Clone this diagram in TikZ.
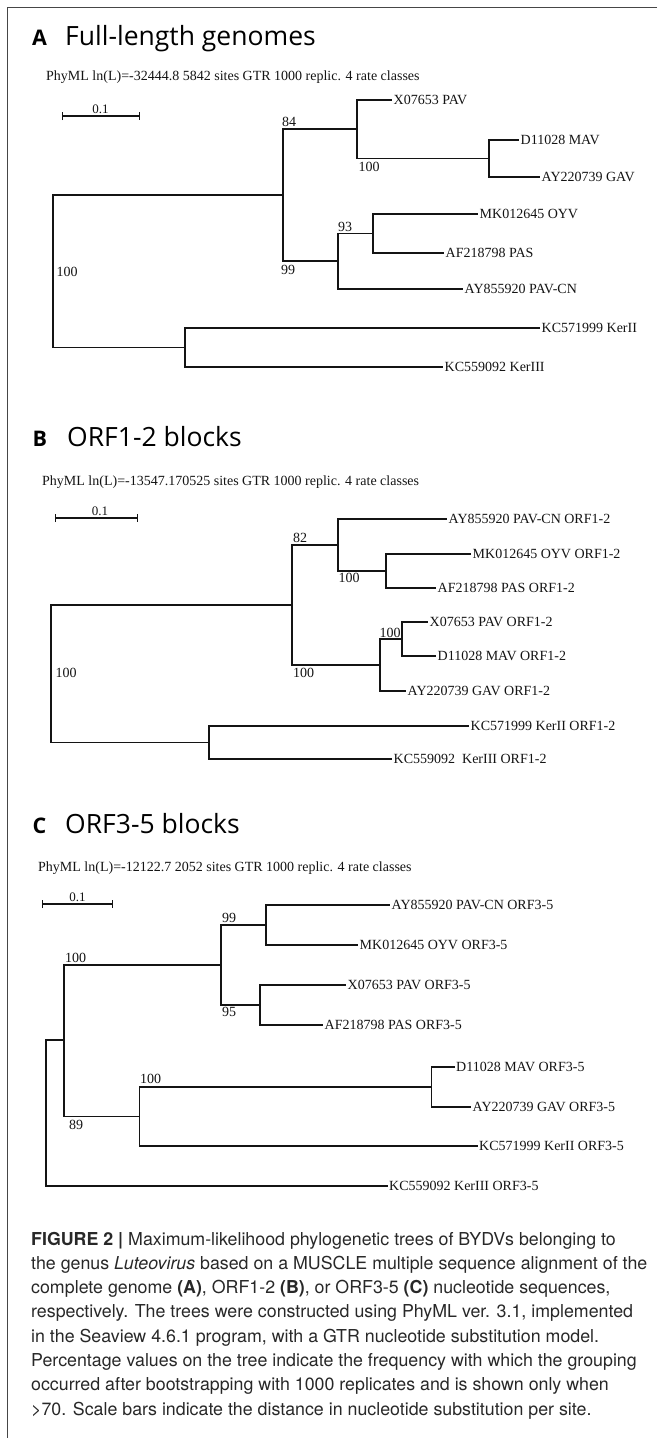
\documentclass[tikz,border=0pt]{standalone}
\usepackage{fontspec}
\setmainfont{Liberation Serif}
\newfontfamily\headfont{Open Sans}
\newfontfamily\capfont{TeX Gyre Heros}
\usetikzlibrary{arrows.meta}
\definecolor{ink}{RGB}{20,20,20}
\definecolor{rule}{RGB}{70,70,70}
\definecolor{captext}{RGB}{40,40,40}
\tikzset{
  branch/.style={draw=ink, line width=1.2pt},
  leaf/.style={anchor=west, inner xsep=1.5pt, inner ysep=0pt,
               font=\fontsize{14}{16}\selectfont, text=ink},
  boot/.style={inner sep=0pt, font=\fontsize{14}{16}\selectfont, text=ink},
  info/.style={anchor=west, inner sep=0pt, font=\fontsize{14}{16}\selectfont, text=ink},
  panel/.style={anchor=base west, inner sep=0pt, font=\headfont\bfseries\fontsize{21.5}{24}\selectfont},
  heading/.style={anchor=base west, inner sep=0pt, font=\headfont\fontsize{26.5}{30}\selectfont},
  scalebar/.style={draw=ink, line width=1.2pt, {Bar[width=8pt]}-{Bar[width=8pt]}},
  scaletext/.style={anchor=base, inner sep=0pt, font=\fontsize{13}{15}\selectfont, text=ink},
  capline/.style={anchor=base west, inner sep=0pt, font=\capfont\fontsize{17.8}{22}\selectfont, text=captext},
  frame/.style={draw=rule, line width=1.5pt},
}

\begin{document}
\begin{tikzpicture}[x=1pt,y=-1pt]
        \useasboundingbox (0,0) rectangle (657,1438);
        \draw[frame] (657,7.5) -- (7.5,7.5) -- (7.5,1438);

        % A: full-length genomes
        \node[panel] (pA) at (32,45) {A};
        \node[heading] (hA) at (65,45) {Full-length genomes};
        \node[info] (iA) at (46,77) {PhyML ln(L)=-32444.8 5842 sites GTR 1000 replic. 4 rate classes};
        \coordinate (sA0) at (62,116);
        \coordinate (sA1) at (140,116);
        \draw[scalebar] (sA0) -- (sA1);
        \node[scaletext] (tA) at (100.5,113) {0.1};
        \coordinate (rA) at (53,271);
        \coordinate (nA84) at (283,195);
        \coordinate (nApav) at (357,129);
        \coordinate (nAmg) at (489,158.5);
        \coordinate (nA99) at (338,261);
        \coordinate (nA93) at (373,233.5);
        \coordinate (nAker) at (185,347.5);
        \node[leaf] (aPAV) at (392,100) {X07653 PAV};
        \node[leaf] (aMAV) at (519,140) {D11028 MAV};
        \node[leaf] (aGAV) at (540,177) {AY220739 GAV};
        \node[leaf] (aOYV) at (478,214) {MK012645 OYV};
        \node[leaf] (aPAS) at (444,253) {AF218798 PAS};
        \node[leaf] (aPAVCN) at (463,289) {AY855920 PAV-CN};
        \node[leaf] (aKerII) at (540,328) {KC571999 KerII};
        \node[leaf] (aKerIII) at (443,367) {KC559092 KerIII};
        \draw[branch] (rA) |- (nA84);
        \draw[branch] (rA) |- (nAker);
        \draw[branch] (nA84) |- (nApav);
        \draw[branch] (nA84) |- (nA99);
        \draw[branch] (nApav) |- (aPAV.west);
        \draw[branch] (nApav) |- (nAmg);
        \draw[branch] (nAmg) |- (aMAV.west);
        \draw[branch] (nAmg) |- (aGAV.west);
        \draw[branch] (nA99) |- (nA93);
        \draw[branch] (nA99) |- (aPAVCN.west);
        \draw[branch] (nA93) |- (aOYV.west);
        \draw[branch] (nA93) |- (aPAS.west);
        \draw[branch] (nAker) |- (aKerII.west);
        \draw[branch] (nAker) |- (aKerIII.west);
        \node[boot] (bA84) at (289,122) {84};
        \node[boot] (bAmg) at (369,167) {100};
        \node[boot] (bA93) at (345,227) {93};
        \node[boot] (bA99) at (288,270) {99};
        \node[boot] (bArt) at (67,272) {100};

        % B: ORF1-2 blocks
        \node[panel] (pB) at (32.5,446) {B};
        \node[heading] (hB) at (67,446) {ORF1-2 blocks};
        \node[info] (iB) at (42,482) {PhyML ln(L)=-13547.170525 sites GTR 1000 replic. 4 rate classes};
        \coordinate (sB0) at (54.5,518);
        \coordinate (sB1) at (138,518);
        \draw[scalebar] (sB0) -- (sB1);
        \node[scaletext] (tB) at (100,515) {0.1};
        \coordinate (rB) at (51,673.5);
        \coordinate (nB82) at (292,605);
        \coordinate (nBcn) at (338,545);
        \coordinate (nBop) at (386,571);
        \coordinate (nBpg) at (380,665);
        \coordinate (nBpm) at (402,639);
        \coordinate (nBker) at (209,742.5);
        \node[leaf] (bPAVCN) at (447,519) {AY855920 PAV-CN ORF1-2};
        \node[leaf] (bOYV) at (471,554) {MK012645 OYV ORF1-2};
        \node[leaf] (bPAS) at (436,588) {AF218798 PAS ORF1-2};
        \node[leaf] (bPAV) at (428,622) {X07653 PAV ORF1-2};
        \node[leaf] (bMAV) at (436,656) {D11028 MAV ORF1-2};
        \node[leaf] (bGAV) at (406,691) {AY220739 GAV ORF1-2};
        \node[leaf] (bKerII) at (469,726) {KC571999 KerII ORF1-2};
        \node[leaf] (bKerIII) at (392,759) {KC559092\ \ KerIII ORF1-2};
        \draw[branch] (rB) |- (nB82);
        \draw[branch] (rB) |- (nBker);
        \draw[branch] (nB82) |- (nBcn);
        \draw[branch] (nB82) |- (nBpg);
        \draw[branch] (nBcn) |- (bPAVCN.west);
        \draw[branch] (nBcn) |- (nBop);
        \draw[branch] (nBop) |- (bOYV.west);
        \draw[branch] (nBop) |- (bPAS.west);
        \draw[branch] (nBpg) |- (nBpm);
        \draw[branch] (nBpg) |- (bGAV.west);
        \draw[branch] (nBpm) |- (bPAV.west);
        \draw[branch] (nBpm) |- (bMAV.west);
        \draw[branch] (nBker) |- (bKerII.west);
        \draw[branch] (nBker) |- (bKerIII.west);
        \node[boot] (bB82) at (300,538) {82};
        \node[boot] (bBop) at (349,578) {100};
        \node[boot] (bBpm) at (390,633) {100};
        \node[boot] (bBpg) at (303.5,673) {100};
        \node[boot] (bBrt) at (66,673) {100};

        % C: ORF3-5 blocks
        \node[panel] (pC) at (32.5,833) {C};
        \node[heading] (hC) at (65,833) {ORF3-5 blocks};
        \node[info] (iC) at (38,868) {PhyML ln(L)=-12122.7 2052 sites GTR 1000 replic. 4 rate classes};
        \coordinate (sC0) at (42,904);
        \coordinate (sC1) at (113,904);
        \draw[scalebar] (sC0) -- (sC1);
        \node[scaletext] (tC) at (77.5,901) {0.1};
        \coordinate (rC) at (46,1113);
        \coordinate (nC89) at (64,1040);
        \coordinate (nC100) at (221,965);
        \coordinate (nC99) at (266,925);
        \coordinate (nC95) at (260,1005);
        \coordinate (nCker) at (139.5,1116.5);
        \coordinate (nCmg) at (431.5,1087);
        \node[leaf] (cPAVCN) at (390,905) {AY855920 PAV-CN ORF3-5};
        \node[leaf] (cOYV) at (358,945) {MK012645 OYV ORF3-5};
        \node[leaf] (cPAV) at (346,985) {X07653 PAV ORF3-5};
        \node[leaf] (cPAS) at (323,1025) {AF218798 PAS ORF3-5};
        \node[leaf] (cMAV) at (454.5,1067) {D11028 MAV ORF3-5};
        \node[leaf] (cGAV) at (471,1107) {AY220739 GAV ORF3-5};
        \node[leaf] (cKerII) at (477.5,1146) {KC571999 KerII ORF3-5};
        \node[leaf] (cKerIII) at (387.5,1186) {KC559092 KerIII ORF3-5};
        \draw[branch] (rC) |- (nC89);
        \draw[branch] (rC) |- (cKerIII.west);
        \draw[branch] (nC89) |- (nC100);
        \draw[branch] (nC89) |- (nCker);
        \draw[branch] (nC100) |- (nC99);
        \draw[branch] (nC100) |- (nC95);
        \draw[branch] (nC99) |- (cPAVCN.west);
        \draw[branch] (nC99) |- (cOYV.west);
        \draw[branch] (nC95) |- (cPAV.west);
        \draw[branch] (nC95) |- (cPAS.west);
        \draw[branch] (nCker) |- (nCmg);
        \draw[branch] (nCker) |- (cKerII.west);
        \draw[branch] (nCmg) |- (cMAV.west);
        \draw[branch] (nCmg) |- (cGAV.west);
        \node[boot] (bC99) at (229,918) {99};
        \node[boot] (bC100) at (75.5,958) {100};
        \node[boot] (bC95) at (229,1012) {95};
        \node[boot] (bC89) at (76,1125) {89};
        \node[boot] (bCmg) at (150.5,1079) {100};

        % caption
        \node[capline] (cap1) at (31,1245) {\textbf{FIGURE 2 |} Maximum-likelihood phylogenetic trees of BYDVs belonging to};
        \node[capline] (cap2) at (31,1269.3) {the genus \textit{Luteovirus} based on a MUSCLE multiple sequence alignment of the};
        \node[capline] (cap3) at (31,1293.6) {complete genome \textbf{(A)}, ORF1-2 \textbf{(B)}, or ORF3-5 \textbf{(C)} nucleotide sequences,};
        \node[capline] (cap4) at (31,1317.9) {respectively. The trees were constructed using PhyML ver. 3.1, implemented};
        \node[capline] (cap5) at (31,1342.2) {in the Seaview 4.6.1 program, with a GTR nucleotide substitution model.};
        \node[capline] (cap6) at (31,1366.5) {Percentage values on the tree indicate the frequency with which the grouping};
        \node[capline] (cap7) at (31,1390.8) {occurred after bootstrapping with 1000 replicates and is shown only when};
        \node[capline] (cap8) at (31,1415.1) {>70. Scale bars indicate the distance in nucleotide substitution per site.};
      \end{tikzpicture}
\end{document}
